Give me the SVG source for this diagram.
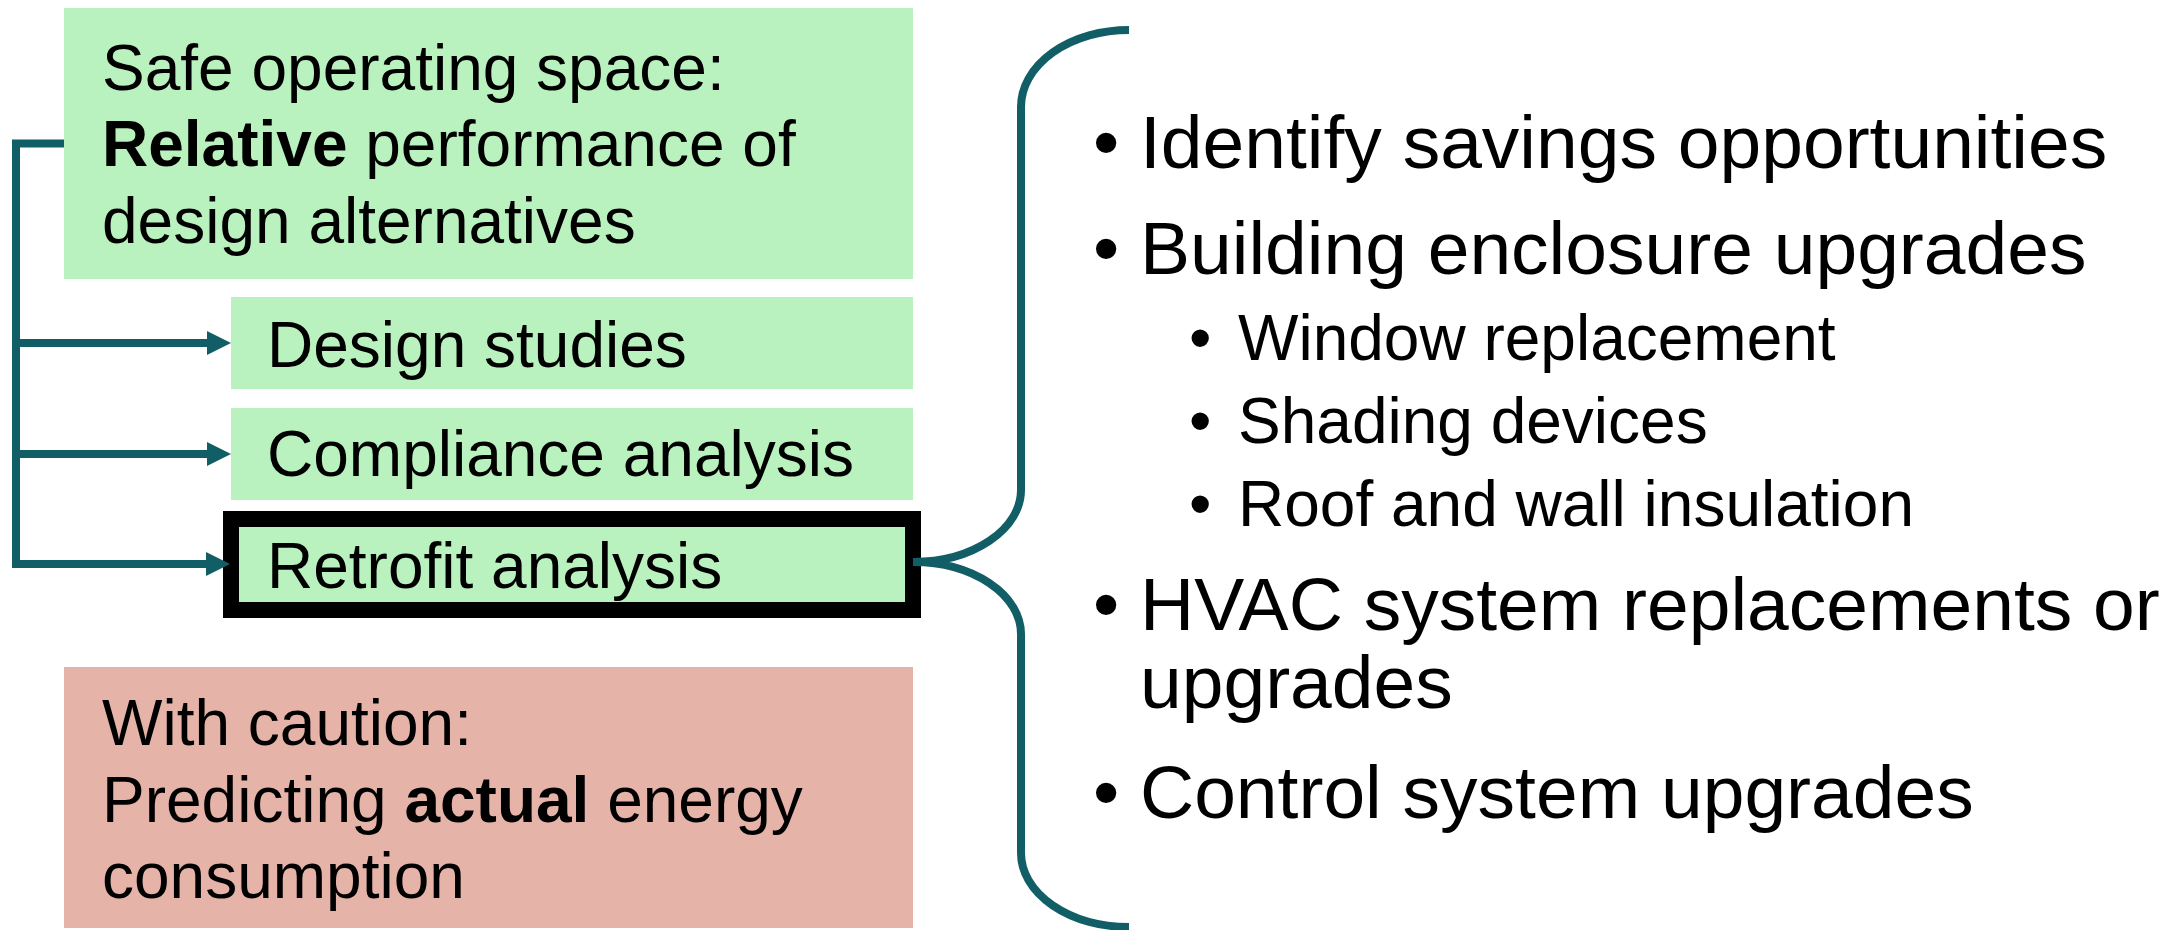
<svg xmlns="http://www.w3.org/2000/svg" width="2171" height="930" viewBox="0 0 2171 930">
<style>
.t{font-family:"Liberation Sans",Arial,sans-serif;fill:#000}
.l{font-size:64px}
.m{font-size:75px}
.b{font-weight:bold}
.green{fill:#B9F2BE}
.red{fill:#E6B3A9}
.conn{fill:none;stroke:#125E66;stroke-width:8}
.head{fill:#125E66}
</style>
<rect width="2171" height="930" fill="#fff"/>
<g id="node-safe">
<rect class="green" x="64" y="8" width="849" height="271"/>
<text class="t l" x="102" y="90">Safe operating space:</text>
<text class="t l" x="102" y="166"><tspan class="b">Relative</tspan> performance of</text>
<text class="t l" x="102" y="243">design alternatives</text>
</g>
<g id="node-design">
<rect class="green" x="231" y="297" width="682" height="92"/>
<text class="t l" x="267" y="367">Design studies</text>
</g>
<g id="node-compliance">
<rect class="green" x="231" y="408" width="682" height="92"/>
<text class="t l" x="267" y="476">Compliance analysis</text>
</g>
<g id="node-retrofit">
<rect class="green" x="231" y="519" width="682" height="91" stroke="#000" stroke-width="16"/>
<text class="t l" x="267" y="588">Retrofit analysis</text>
</g>
<g id="node-caution">
<rect class="red" x="64" y="667" width="849" height="261"/>
<text class="t l" x="102" y="745">With caution:</text>
<text class="t l" x="102" y="822">Predicting <tspan class="b">actual</tspan> energy</text>
<text class="t l" x="102" y="898">consumption</text>
</g>
<g id="node-list">
<text class="t m" x="1093" y="168">•</text>
<text class="t m" x="1140" y="168">Identify savings opportunities</text>
<text class="t m" x="1093" y="274">•</text>
<text class="t m" x="1140" y="274">Building enclosure upgrades</text>
<text class="t l" x="1189" y="360">•</text>
<text class="t l" x="1238" y="360">Window replacement</text>
<text class="t l" x="1189" y="443">•</text>
<text class="t l" x="1238" y="443">Shading devices</text>
<text class="t l" x="1189" y="526">•</text>
<text class="t l" x="1238" y="526">Roof and wall insulation</text>
<text class="t m" x="1093" y="630">•</text>
<text class="t m" x="1140" y="630">HVAC system replacements or</text>
<text class="t m" x="1140" y="708">upgrades</text>
<text class="t m" x="1093" y="818">•</text>
<text class="t m" x="1140" y="818">Control system upgrades</text>
</g>
<g id="connectors">
<path class="conn" d="M64,143.5 H16 V564 H208"/>
<path class="conn" d="M16,343 H208"/>
<path class="conn" d="M16,454 H208"/>
<polygon class="head" points="207,331 231,343 207,355"/>
<polygon class="head" points="207,442 231,454 207,466"/>
<polygon class="head" points="206,552 230,564 206,576"/>
<path class="conn" d="M1129,30 A108,77 0 0 0 1021,107 V490 A108,72 0 0 1 913,562 A108,72 0 0 1 1021,634 V853 A108,74 0 0 0 1129,927"/>
</g>
</svg>
